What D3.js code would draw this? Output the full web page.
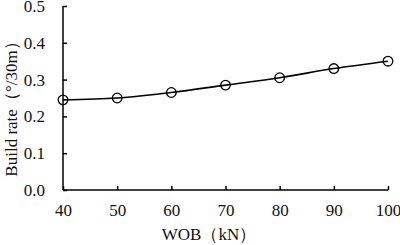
<!DOCTYPE html>
<html>
<head>
<meta charset="utf-8">
<script src="https://cdn.jsdelivr.net/npm/d3@7"></script>
<style>
body { margin: 0; background: #fff; }
text { font-family: "Liberation Serif", "Times New Roman", serif; }
</style>
</head>
<body>
<div id="the_chart"></div>
<script>
var wob = [40, 50, 60, 70, 80, 90, 100];
var buildRate = [0.245, 0.25, 0.265, 0.285, 0.305, 0.33, 0.35];
var yTicks = [0.0, 0.1, 0.2, 0.3, 0.4, 0.5];

var w = 400, h = 245;
var svg = d3.select("#the_chart").append("svg")
    .attr("width", w).attr("height", h);

var xscale = d3.scaleLinear().domain([40, 100]).range([63, 388]);
var yscale = d3.scaleLinear().domain([0, 0.5]).range([190, 6]);

// y axis, ticks pointing inward
var gY = svg.append("g")
    .attr("transform", "translate(63,0)")
    .call(d3.axisRight(yscale).tickValues(yTicks).tickSize(4).tickFormat(d3.format(".1f")));
gY.selectAll("text").attr("x", -18).attr("text-anchor", "end");
gY.select(".domain").attr("d", "M0," + yscale(0.5) + "V" + yscale(0));

var gX = svg.append("g")
    .attr("transform", "translate(0,190)")
    .call(d3.axisTop(xscale).tickValues(wob).tickSize(4));
gX.selectAll("text").attr("y", 26);
gX.select(".domain").attr("d", "M" + xscale(40) + ",0H" + xscale(100));

svg.selectAll(".domain, .tick line").attr("stroke", "#000").attr("stroke-width", 1.5);
svg.selectAll(".tick text").attr("font-size", 17).attr("fill", "#111")
    .attr("font-family", "Liberation Serif, serif");

var pts = wob.map(function(d, i) { return [d, buildRate[i]]; });

svg.append("path")
    .datum(pts)
    .attr("fill", "none")
    .attr("stroke", "#000")
    .attr("stroke-width", 1.6)
    .attr("d", d3.line()
        .x(function(d) { return xscale(d[0]); })
        .y(function(d) { return yscale(d[1]); })
        .curve(d3.curveMonotoneX));

svg.selectAll("circle")
    .data(pts)
    .enter().append("circle")
    .attr("cx", function(d) { return xscale(d[0]); })
    .attr("cy", function(d) { return yscale(d[1]); })
    .attr("r", 4.8)
    .attr("fill", "none")
    .attr("stroke", "#000")
    .attr("stroke-width", 1.3);

svg.append("text")
    .attr("x", 209).attr("y", 240)
    .attr("text-anchor", "middle")
    .attr("font-size", 17).attr("fill", "#111")
    .text("WOB（kN）");

svg.append("text")
    .attr("transform", "translate(17,105) rotate(-90)")
    .attr("text-anchor", "middle")
    .attr("font-size", 17).attr("fill", "#111")
    .text("Build rate（°/30m）");
</script>
</body>
</html>
